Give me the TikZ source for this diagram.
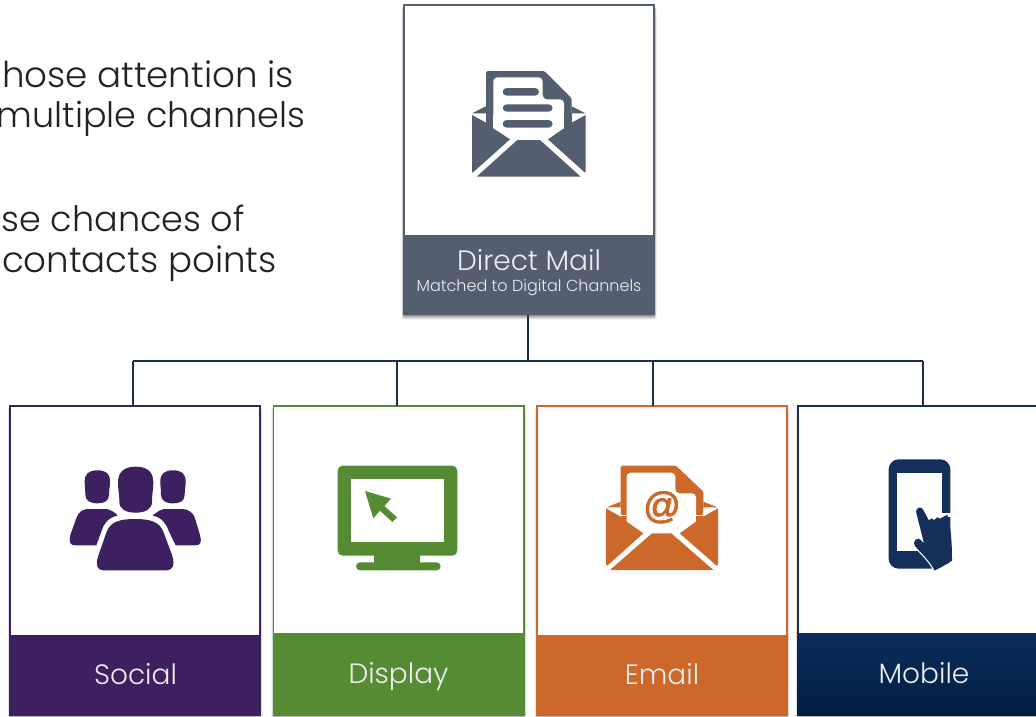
\documentclass[tikz,border=0pt]{standalone}
\usepackage{fontspec}
\setmainfont{Poppins Light}
\newfontfamily\atfont[FakeBold=2.5]{Liberation Sans}
\definecolor{slate}{HTML}{535F6E}
\definecolor{purp}{HTML}{3C2060}
\definecolor{grn}{HTML}{548B33}
\definecolor{org}{HTML}{CC6829}
\definecolor{navy}{HTML}{14305A}
\definecolor{navyt}{HTML}{0A2C5C}
\definecolor{navyb}{HTML}{021F42}
\definecolor{conn}{HTML}{1B2F4D}
\definecolor{ink}{HTML}{222222}
\definecolor{lbl}{HTML}{ECEEF0}
\tikzset{
  x=1pt,y=-1pt,
  card/.style={draw=#1,fill=white,line width=1.1pt,inner sep=0pt,outer sep=0pt,rectangle},
  band/.style={fill=#1,draw=none,inner sep=0pt,outer sep=0pt,rectangle,rounded corners=1.5pt},
  lab/.style={text=lbl,inner sep=0pt,anchor=base,font=\fontsize{28}{28}\selectfont},
  sublab/.style={text=lbl,inner sep=0pt,anchor=base,font=\fontsize{16}{16}\selectfont},
  bodytext/.style={text=ink,inner sep=0pt,anchor=base east,font=\fontsize{#1}{36}\selectfont},
  connector/.style={draw=conn,line width=1.3pt},
  zoomed/.style={x=0.33333pt,y=-0.33333pt},
}
% soft shadow, strongest under the card's lower edge
\newcommand{\softsh}[5]{%
  \foreach \d/\o in {5/.05,4/.07,3/.09,2/.11,1/.13}{
    \fill[black,opacity=#5*\o,rounded corners=2pt] (#1-\d*.5,#2+2) rectangle (#3+\d*.5,#4+\d);
  }}
\begin{document}
\begin{tikzpicture}
\path[use as bounding box] (0,0) rectangle (1036,716);
\fill[white] (0,0) rectangle (1036,716);
\clip (0,0) rectangle (1036,716);

% left text
\node[bodytext=35.6] (t1) at (294,87) {hose attention is};
\node[bodytext=35] (t2) at (305.5,127) {multiple channels};
\node[bodytext=35] (t3) at (245,231) {se chances of};
\node[bodytext=35.6] (t4) at (277,272) {contacts points};

% shadows
\softsh{404}{5}{654}{314.5}{1.3}
\softsh{10}{406}{260}{716}{.7}
\softsh{273.5}{406}{524}{716}{.7}
\softsh{537}{406}{787}{716}{.7}
\softsh{798}{406}{1048}{716}{.7}

% cards
\node[card=slate,minimum width=250pt,minimum height=309pt] (dm) at (529,159.5) {};
\node[band=slate,minimum width=251pt,minimum height=79.5pt] (dmband) at (529,274.75) {};
\node[card=purp,minimum width=250pt,minimum height=309.5pt] (social) at (135,560.75) {};
\node[band=purp,minimum width=251pt,minimum height=80.5pt] (socialband) at (135,675.25) {};
\node[card=grn,minimum width=250.5pt,minimum height=309.5pt] (display) at (398.75,560.75) {};
\node[band=grn,minimum width=251.5pt,minimum height=82.5pt] (displayband) at (398.75,674.25) {};
\node[card=org,minimum width=250pt,minimum height=309.5pt] (email) at (662,560.75) {};
\node[band=org,minimum width=251pt,minimum height=80.5pt] (emailband) at (662,675.25) {};
\node[card=navy,minimum width=250pt,minimum height=309.5pt] (mobile) at (923,560.75) {};
\node[rectangle,inner sep=0pt,outer sep=0pt,top color=navyt,bottom color=navyb,minimum width=251pt,minimum height=82.5pt] (mobileband) at (923,674.25) {};

% labels
\node[lab] (l0) at (529,270) {Direct Mail};
\node[sublab] (l0b) at (529,291.5) {Matched to Digital Channels};
\node[lab] (l1) at (135.5,684) {Social};
\node[lab] (l2) at (398.5,683) {Display};
\node[lab] (l3) at (662,684) {Email};
\node[lab] (l4) at (924,683) {Mobile};

% connectors
\coordinate (busm) at (528,361);
\coordinate (b1) at (133,361);
\coordinate (b2) at (397,361);
\coordinate (b3) at (653,361);
\coordinate (b4) at (923,361);
\draw[connector] (busm |- dmband.south) -- (busm);
\draw[connector] (b1) -- (b4);
\draw[connector] (b1) -- (b1 |- social.north);
\draw[connector] (b2) -- (b2 |- display.north);
\draw[connector] (b3) -- (b3 |- email.north);
\draw[connector] (b4) -- (b4 |- mobile.north);

% Direct Mail icon
\begin{scope}[shift={(400,0)},zoomed]
  \fill[slate,rounded corners=1.5pt] (258,345) -- (258,213) -- (433,213) -- (515,295) -- (515,345) -- cycle;
  \fill[slate] (216,340) -- (258,319) -- (258,340) -- cycle;
  \fill[slate] (557,340) -- (515,319) -- (515,340) -- cycle;
  \fill[white,rounded corners=4pt] (280,400) -- (280,232) -- (428,232) -- (428,298) -- (492,298) -- (492,400) -- cycle;
  \fill[white] (221,343) -- (258,343) -- (258,367) -- cycle;
  \fill[white] (552,343) -- (515,343) -- (515,367) -- cycle;
  \fill[white] (280,380) rectangle (492,420);
  \fill[slate,rounded corners=4pt] (308,264) rectangle (417,287);
  \fill[slate,rounded corners=4pt] (308,313) rectangle (458,335);
  \fill[slate,rounded corners=4pt] (308,360) rectangle (458,383);
  \fill[slate] (258,340) rectangle (280,387);
  \fill[slate] (492,340) rectangle (515,387);
  \fill[slate] (216,345) -- (258,368) -- (280,385) -- (330,418) -- (218,518) -- (216,515) -- cycle;
  \fill[slate] (557,345) -- (515,368) -- (492,385) -- (444,418) -- (555,518) -- (557,515) -- cycle;
  \fill[slate] (352,420) -- (420,420) -- (542,530) -- (230,530) -- cycle;
\end{scope}

% Social icon
\begin{scope}[shift={(0,400)},zoomed]
  \fill[purp] (292,211) .. controls (320,211) and (330,222) .. (330,245) .. controls (330,260) and (327,268) .. (327,285) .. controls (327,303) and (312,310) .. (292,310) .. controls (270,310) and (257,302) .. (256,285) .. controls (256,268) and (254,260) .. (254,245) .. controls (254,222) and (265,211) .. (292,211) -- cycle;
  \fill[purp] (519,211) .. controls (546,211) and (557,222) .. (557,245) .. controls (557,260) and (554,268) .. (554,285) .. controls (554,303) and (540,310) .. (519,310) .. controls (497,310) and (484,302) .. (483,285) .. controls (483,268) and (481,260) .. (481,245) .. controls (481,222) and (492,211) .. (519,211) -- cycle;
  \fill[purp] (407,200) .. controls (445,200) and (460,218) .. (460,248) .. controls (460,270) and (456,280) .. (456,305) .. controls (456,328) and (435,338) .. (407,338) .. controls (378,338) and (358,328) .. (358,305) .. controls (358,280) and (354,270) .. (354,248) .. controls (354,218) and (370,200) .. (407,200) -- cycle;
  \fill[purp] (262,327) -- (320,327) .. controls (335,330) and (345,338) .. (353,347) .. controls (325,352) and (312,370) .. (305,392) -- (289,436) -- (225,436) .. controls (210,436) and (206,425) .. (211,405) -- (230,352) .. controls (236,336) and (248,328) .. (262,327) -- cycle;
  \fill[purp] (549,327) -- (492,327) .. controls (478,330) and (468,338) .. (458,347) .. controls (485,352) and (498,370) .. (506,392) -- (527,436) -- (587,436) .. controls (602,436) and (606,425) .. (600,405) -- (584,352) .. controls (578,336) and (563,328) .. (549,327) -- cycle;
  \fill[purp] (405,357) .. controls (450,357) and (478,365) .. (490,395) -- (516,465) .. controls (526,495) and (518,511) .. (500,511) -- (310,511) .. controls (292,511) and (286,495) .. (294,470) -- (320,395) .. controls (332,365) and (360,357) .. (405,357) -- cycle;
\end{scope}

% Display icon
\begin{scope}[shift={(270,400)},zoomed]
  \fill[grn,rounded corners=5pt] (203,197) rectangle (562,467);
  \fill[white] (244,238) rectangle (522,426);
  \fill[grn] (312,460) rectangle (451,490);
  \fill[grn,rounded corners=4pt] (258,487) rectangle (512,511);
  \fill[grn] (285,273) -- (363,296) -- (343,318) -- (381,352) -- (367,366) -- (330,332) -- (310,355) -- cycle;
\end{scope}

% Email icon
\begin{scope}[shift={(530,400)},zoomed]
  \fill[org,rounded corners=1.5pt] (272,345) -- (272,197) -- (438,197) -- (520,275) -- (520,345) -- cycle;
  \fill[org] (230,322) -- (272,305) -- (272,322) -- cycle;
  \fill[org] (562,322) -- (520,305) -- (520,322) -- cycle;
  \fill[white,rounded corners=4pt] (290,380) -- (290,218) -- (436,218) -- (436,280) -- (498,280) -- (498,380) -- cycle;
  \fill[white] (290,360) rectangle (498,400);
  \fill[white] (235,326) -- (272,326) -- (272,350) -- cycle;
  \fill[white] (557,326) -- (520,326) -- (520,350) -- cycle;
  \fill[org] (272,350) -- (272,348) -- (290,348) -- (290,367) -- cycle;
  \fill[org] (498,367) -- (498,348) -- (520,348) -- (520,350) -- cycle;
  \fill[org] (228,325) -- (272,350) -- (290,365) -- (340,400) -- (232,497) -- (228,494) -- cycle;
  \fill[org] (564,325) -- (520,350) -- (498,365) -- (449,400) -- (560,497) -- (564,494) -- cycle;
  \fill[org] (366,400) -- (424,400) -- (550,510) -- (240,510) -- cycle;
  \node[text=org,inner sep=0pt,font=\atfont\fontsize{37}{37}\selectfont] (at) at (396,322) {@};
\end{scope}

% Mobile icon
\begin{scope}[shift={(790,400)},zoomed]
  \fill[navy,rounded corners=10pt] (296,178) rectangle (481,506);
  \fill[white] (320,218) rectangle (456,454);
  \fill[white] (456,340) rectangle (485,352);
  \fill[white] (434,512) -- (490,482) -- (490,512) -- cycle;
  \draw[white,line width=2.4pt,line join=round]
    (472,342) -- (450,354) -- (442,350) -- (432,358) -- (424,353) -- (417,360) -- (401,332)
    .. controls (396,316) and (378,322) .. (378,335)
    -- (402,430) -- (390,418)
    .. controls (380,410) and (366,426) .. (375,438)
    .. controls (395,462) and (418,480) .. (434,512);
  \fill[navy]
    (378,335) .. controls (378,322) and (396,316) .. (401,332)
    -- (417,362) -- (424,355) -- (432,360) -- (442,352) -- (450,356) -- (472,344)
    .. controls (482,380) and (486,420) .. (486,482)
    -- (434,512) .. controls (418,480) and (395,462) .. (375,438)
    .. controls (366,426) and (380,410) .. (390,418)
    -- (402,430) -- cycle;
\end{scope}
\end{tikzpicture}
\end{document}
